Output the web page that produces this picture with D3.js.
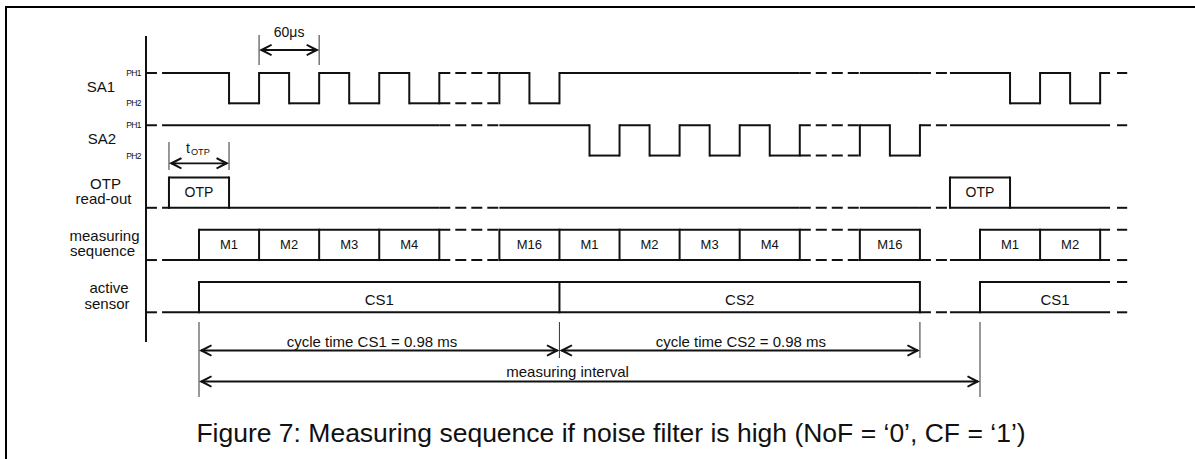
<!DOCTYPE html>
<html><head><meta charset="utf-8">
<script src="https://cdn.jsdelivr.net/npm/d3@7"></script>
<style>
html,body{margin:0;padding:0;background:#fff;}
svg{display:block;font-family:"Liberation Sans",Arial,sans-serif;}
</style></head><body>
<svg id="c" width="1195" height="459"></svg>
<script>
// ---------------- data (time in half-period units, 1 unit = 30 µs) ----------------
const rowLabels = [["SA1"], ["SA2"], ["OTP", "read-out"], ["measuring", "sequence"], ["active", "sensor"]];
const phaseLabels = ["PH1", "PH2"];
// segments: [tStart, tEnd, level (1 = PH1 / top, 0 = PH2 / bottom), dashed]
const sa1Segments = [[-1.76,-1.40,1,0],[-1.23,1,1,0],[1,2,0,0],[2,3,1,0],[3,4,0,0],[4,5,1,0],[5,6,0,0],[6,7,1,0],[7,8,0,0],
  [8,10,1,1],[8,10,0,1],[10,11,1,0],[11,12,0,0],[12,20,1,0],[20,22,1,1],[22,24,1,0],[24,25,1,1],[25,27,1,0],
  [27,28,0,0],[28,29,1,0],[29,30,0,0],[30,30.33,1,0],[30.56,30.9,1,0]];
const sa1Edges = [1,2,3,4,5,6,7,8,10,11,12,27,28,29,30];
const sa2Segments = [[-1.76,-1.40,1,0],[-1.23,8,1,0],[8,10,1,1],[10,13,1,0],[13,14,0,0],[14,15,1,0],[15,16,0,0],[16,17,1,0],
  [17,18,0,0],[18,19,1,0],[19,20,0,0],[20,22,1,1],[20,22,0,1],[22,23,1,0],[23,24,0,0],[24,25,1,1],[25,30.33,1,0],[30.56,30.9,1,0]];
const sa2Edges = [13,14,15,16,17,18,19,20,22,23,24];
const otpSegments = [[-1.76,-1.40,0,0],[-1.23,8,0,0],[-1,1,1,0],[8,10,0,1],[10,20,0,0],[20,22,0,1],[22,24,0,0],[24,25,0,1],
  [25,30.33,0,0],[25,27,1,0],[30.56,30.9,0,0]];
const otpEdges = [-1,1,25,27];
const otpBoxes = [[0,"OTP"],[26,"OTP"]];
const measSegments = [[0,8,1,0],[8,10,1,1],[10,20,1,0],[20,22,1,1],[22,24,1,0],[26,30.33,1,0],[30.56,30.9,1,0],
  [-1.76,-1.40,0,0],[-1.23,8,0,0],[8,10,0,1],[10,20,0,0],[20,22,0,1],[22,24,0,0],[24,25,0,1],[25,30.33,0,0],[30.56,30.9,0,0]];
const measEdges = [0,2,4,6,8,10,12,14,16,18,20,22,24,26,28,30];
const measBoxes = [[1,"M1"],[3,"M2"],[5,"M3"],[7,"M4"],[11,"M16"],[13,"M1"],[15,"M2"],[17,"M3"],[19,"M4"],[23,"M16"],[27,"M1"],[29,"M2"]];
const activeSegments = [[0,24,1,0],[26,30.33,1,0],[30.56,30.9,1,0],
  [-1.76,-1.40,0,0],[-1.23,24,0,0],[24,25,0,1],[25,30.33,0,0],[30.56,30.9,0,0]];
const activeEdges = [0,12,24,26];
const activeBoxes = [[6,"CS1"],[18,"CS2"],[28.5,"CS1"]];
// dimension arrows: [tStart, tEnd, label, labelT]
const cycleArrows = [[0,12,"cycle time CS1 = 0.98 ms",5.76],[12,24,"cycle time CS2 = 0.98 ms",18.04]];
const intervalArrow = [0,26,"measuring interval",12.27];
const periodArrow = [2,4,"60μs"];
const otpArrow = [-1,1,"t","OTP"];
const caption = "Figure 7: Measuring sequence if noise filter is high (NoF = ‘0’, CF = ‘1’)";

// ---------------- scales ----------------
const svg = d3.select("#c");
const x = d3.scaleLinear().domain([0, 26]).range([199, 980]);
const yTop = d3.scaleLinear().domain([0, 4]).range([73, 282]);
const rowH = 30.3;
const yLev = (row, lev) => lev ? yTop(row) : yTop(row) + rowH;
const ink = "#111";

// frame & axis
svg.append("rect").attr("x", 6).attr("y", 7).attr("width", 1200).attr("height", 470)
  .attr("fill", "none").attr("stroke", "#000").attr("stroke-width", 2);
svg.append("line").attr("x1", 146).attr("x2", 146).attr("y1", 36).attr("y2", 342)
  .attr("stroke", ink).attr("stroke-width", 2);

const g = svg.append("g");
function drawRow(row, segs, edges, boxes, fs, dy) {
  g.selectAll(null).data(segs).enter().append("line")
    .attr("x1", d => x(d[0])).attr("x2", d => x(d[1]))
    .attr("y1", d => yLev(row, d[2])).attr("y2", d => yLev(row, d[2]))
    .attr("stroke", ink).attr("stroke-width", 2)
    .attr("stroke-dasharray", d => d[3] ? "11,5" : null);
  g.selectAll(null).data(edges).enter().append("line")
    .attr("x1", d => x(d)).attr("x2", d => x(d))
    .attr("y1", yLev(row, 1) - 1).attr("y2", yLev(row, 0) + 1)
    .attr("stroke", ink).attr("stroke-width", 2);
  if (boxes) {
    g.selectAll(null).data(boxes).enter().append("text")
      .attr("x", d => x(d[0])).attr("y", (yLev(row,1) + yLev(row,0)) / 2 + dy)
      .attr("text-anchor", "middle").attr("font-size", fs).attr("fill", ink).text(d => d[1]);
  }
}
drawRow(0, sa1Segments, sa1Edges);
drawRow(1, sa2Segments, sa2Edges);
drawRow(2, otpSegments, otpEdges, otpBoxes, 14, 4.5);
drawRow(3, measSegments, measEdges, measBoxes, 13, 4.5);
drawRow(4, activeSegments, activeEdges, activeBoxes, 15, 8);

// row labels
const labelX = [101, 102, 104.5, 103.5, 108];
rowLabels.forEach((lines, i) => {
  const mid = (yLev(i,1) + yLev(i,0)) / 2;
  lines.forEach((t, j) => {
    const y = lines.length === 1 ? mid + 4 : yLev(i,1) + (j === 0 ? 11 : 26.5);
    svg.append("text").attr("x", labelX[i] + (lines.length > 1 ? (j === 0 ? 1 : -1) : 0)).attr("y", y)
      .attr("text-anchor", "middle").attr("font-size", 15).attr("fill", ink).text(t);
  });
});
// phase labels
[0, 1].forEach(i => {
  phaseLabels.forEach((p, k) => {
    svg.append("text").attr("x", 141).attr("y", yLev(i, k === 0 ? 1 : 0) + 3)
      .attr("text-anchor", "end").attr("font-size", 8.5).attr("letter-spacing", -0.6)
      .attr("fill", ink).text(p);
  });
});

// arrows
function head(xp, y, dir) {
  svg.append("path")
    .attr("d", "M0,0 L12,-6 L13,-4.4 L5,0 L13,4.4 L12,6 Z")
    .attr("transform", `translate(${xp},${y}) scale(${dir},1)`)
    .attr("fill", ink);
}
function dimArrow(t0, t1, y) {
  svg.append("line").attr("x1", x(t0) + 2).attr("x2", x(t1) - 2).attr("y1", y).attr("y2", y)
    .attr("stroke", ink).attr("stroke-width", 1.8);
  head(x(t0), y, 1);
  head(x(t1), y, -1);
}
function tick(t, y1, y2) {
  svg.append("line").attr("x1", x(t)).attr("x2", x(t)).attr("y1", y1).attr("y2", y2)
    .attr("stroke", "#444").attr("stroke-width", 1.1);
}
// cycle time
tick(0, 322, 397); tick(12, 322, 358); tick(24, 322, 358); tick(26, 322, 397);
cycleArrows.forEach(a => {
  dimArrow(a[0], a[1], 350.5);
  svg.append("text").attr("x", x(a[3])).attr("y", 346.5).attr("text-anchor", "middle")
    .attr("font-size", 15).attr("fill", ink).text(a[2]);
});
dimArrow(intervalArrow[0], intervalArrow[1], 381.5);
svg.append("text").attr("x", x(intervalArrow[3])).attr("y", 376.5).attr("text-anchor", "middle")
  .attr("font-size", 15).attr("fill", ink).text(intervalArrow[2]);

// 60 µs
tick(periodArrow[0], 35, 65); tick(periodArrow[1], 35, 65);
dimArrow(periodArrow[0], periodArrow[1], 50);
svg.append("text").attr("x", (x(periodArrow[0]) + x(periodArrow[1])) / 2).attr("y", 37)
  .attr("text-anchor", "middle").attr("font-size", 14).attr("fill", ink).text(periodArrow[2]);

// tOTP
tick(otpArrow[0], 142, 170); tick(otpArrow[1], 142, 170);
dimArrow(otpArrow[0], otpArrow[1], 163.3);
const tt = svg.append("text").attr("x", 186).attr("y", 153.3).attr("font-size", 14).attr("fill", ink);
tt.append("tspan").text(otpArrow[2]);
tt.append("tspan").attr("font-size", 9.2).attr("dy", 2).attr("dx", 1).text(otpArrow[3]);

// caption
svg.append("text").attr("x", 611).attr("y", 441.5).attr("text-anchor", "middle")
  .attr("font-size", 26.5).attr("fill", ink).text(caption);
</script>
</body></html>
